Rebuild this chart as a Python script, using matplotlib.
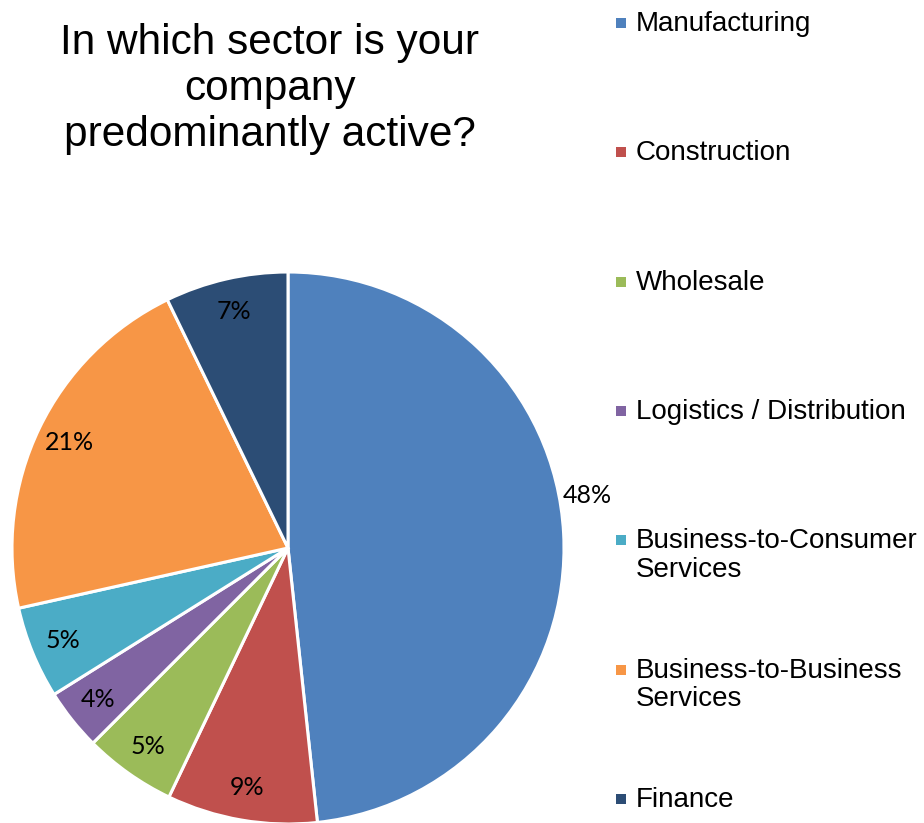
import matplotlib.pyplot as plt
from matplotlib.patches import Rectangle
import math

sectors = ["Manufacturing", "Construction", "Wholesale", "Logistics / Distribution",
           "Business-to-Consumer\nServices", "Business-to-Business\nServices", "Finance"]
shares = [48.3, 8.8, 5.4, 3.6, 5.4, 21.3, 7.2]
colors = ["#4F81BD", "#C0504D", "#9BBB59", "#8064A2", "#4BACC6", "#F79646", "#2C4D75"]

W, H = 924, 823
fig = plt.figure(figsize=(W / 100, H / 100), dpi=100)

# pie axes: centre (288, 548) px, radius 276 px
cx, cy, r = 288, 548, 276
ax = fig.add_axes([(cx - r) / W, (H - cy - r) / H, 2 * r / W, 2 * r / H])
wedges, texts, autotexts = ax.pie(
    shares, colors=colors, startangle=90, counterclock=False,
    autopct='%.0f%%', pctdistance=0.88, radius=1,
    wedgeprops=dict(edgecolor='white', linewidth=2.2),
    textprops=dict(fontsize=18, family='Lato', color='black'))
ax.set_xlim(-1, 1)
ax.set_ylim(-1, 1)
ax.set_aspect('equal')
ax.axis('off')

# first label sits outside, like Excel's best fit
ang = math.radians(10)
autotexts[0].set_position((1.10 * math.cos(ang), 1.10 * math.sin(ang)))

fig.text(270 / W, 1 - 89 / H, "In which sector is your\ncompany\npredominantly active?",
         ha='center', va='center', fontsize=30.5, family='Liberation Sans',
         linespacing=1.2)

# legend drawn by hand
for i, (lab, col) in enumerate(zip(sectors, colors)):
    y = 23 + i * 129.3
    fig.patches.append(Rectangle((616 / W, 1 - (y + 5) / H), 10 / W, 10 / H,
                                 transform=fig.transFigure, facecolor=col,
                                 edgecolor='none'))
    fig.text(636 / W, 1 - (y - 12) / H, lab, ha='left', va='top', fontsize=20,
             family='Liberation Sans', linespacing=1.15)

fig.savefig("out.png", dpi=100)
